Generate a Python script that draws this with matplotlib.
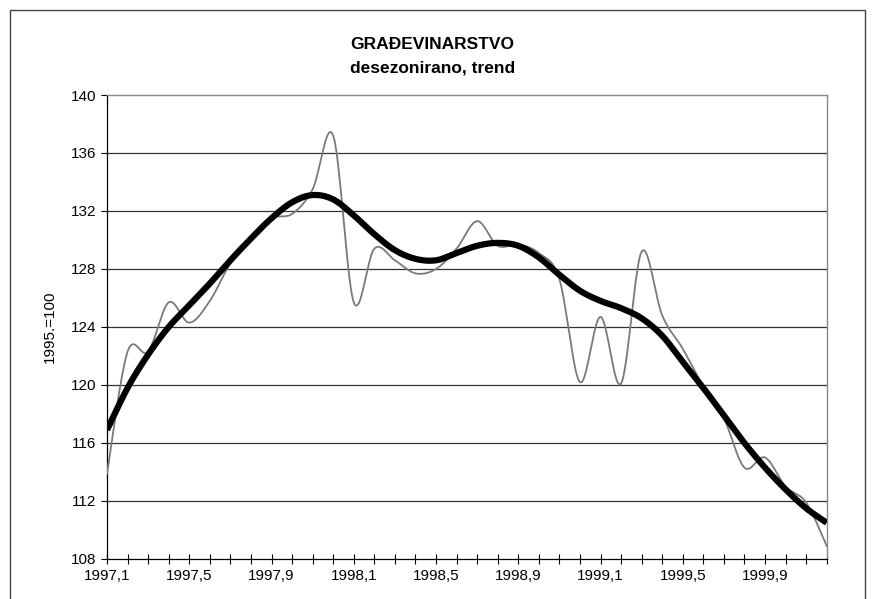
import numpy as np
import matplotlib
matplotlib.use("Agg")
from matplotlib import pyplot as plt
from matplotlib.patches import Rectangle

plt.rcParams['font.family'] = ['Liberation Sans', 'DejaVu Sans']

# mjesečni podaci 1997,1 - 1999,12
months = [f"{y},{m}" for y in (1997, 1998, 1999) for m in range(1, 13)]

# desezonirani indeks (tanka linija)
desez = [113.9, 122.3, 122.3, 125.7, 124.3, 125.8, 128.4, 130.2, 131.5, 131.8,
         133.5, 137.2, 125.7, 129.4, 128.6, 127.7, 128.0, 129.4, 131.3, 129.6,
         129.7, 129.1, 127.3, 120.2, 124.7, 120.1, 129.2, 124.8, 122.5, 119.9,
         117.7, 114.3, 115.0, 113.0, 111.9, 108.9]

# trend (debela linija)
trend = [116.9, 119.8, 122.1, 124.0, 125.5, 127.0, 128.6, 130.1, 131.5, 132.6,
         133.1, 132.8, 131.7, 130.4, 129.3, 128.7, 128.6, 129.1, 129.6, 129.8,
         129.6, 128.8, 127.6, 126.5, 125.8, 125.3, 124.6, 123.4, 121.6, 119.8,
         117.9, 116.0, 114.3, 112.8, 111.5, 110.5]


def smooth(y, n=20):
    # zaglađena linija kao u Excelu (Bezier, kontrolne točke 1/6)
    y = np.asarray(y, float)
    x = np.arange(len(y), dtype=float)
    xp = np.concatenate([[x[0]], x, [x[-1]]])
    yp = np.concatenate([[y[0]], y, [y[-1]]])
    xs, ys = [], []
    t = np.linspace(0, 1, n, endpoint=False)
    for i in range(len(y) - 1):
        p0 = np.array([x[i], y[i]])
        p3 = np.array([x[i + 1], y[i + 1]])
        p1 = p0 + (np.array([xp[i + 2], yp[i + 2]]) - np.array([xp[i], yp[i]])) / 6
        p2 = p3 - (np.array([xp[i + 3], yp[i + 3]]) - np.array([xp[i + 1], yp[i + 1]])) / 6
        b = ((1 - t) ** 3)[:, None] * p0 + (3 * (1 - t) ** 2 * t)[:, None] * p1 \
            + (3 * (1 - t) * t ** 2)[:, None] * p2 + (t ** 3)[:, None] * p3
        xs.extend(b[:, 0]); ys.extend(b[:, 1])
    xs.append(x[-1]); ys.append(y[-1])
    return np.array(xs), np.array(ys)


fig = plt.figure(figsize=(8.75, 5.99), dpi=100)
ax = fig.add_axes([0.1223, 0.0668, 0.8225, 0.7746])

fig.patches.append(Rectangle((0.011, -0.01), 0.978, 0.994, transform=fig.transFigure,
                             fill=False, edgecolor='#444444', linewidth=1.0))

for v in range(112, 140, 4):
    ax.axhline(v, color='#333333', linewidth=0.9, zorder=1)

xs, ys = smooth(desez)
ax.plot(xs, ys, color='#7a7a7a', linewidth=1.3, zorder=3)
xs, ys = smooth(trend)
ax.plot(xs, ys, color='black', linewidth=4.5, solid_capstyle='butt', zorder=4)

ax.set_xlim(0, len(months) - 1)
ax.set_ylim(108, 140)
ax.set_yticks(range(108, 141, 4))
ax.set_xticks(range(len(months)))
ax.set_xticklabels([m if i % 4 == 0 else "" for i, m in enumerate(months)])
ax.tick_params(axis='x', direction='inout', length=7, width=0.8, labelsize=11, pad=4)
ax.tick_params(axis='y', direction='out', length=4, width=0.8, labelsize=11, pad=4)

for s in ('left', 'bottom'):
    ax.spines[s].set_color('black')
    ax.spines[s].set_linewidth(0.9)
for s in ('top', 'right'):
    ax.spines[s].set_color('#888888')
    ax.spines[s].set_linewidth(1.0)

ax.set_ylabel("1995.=100", fontsize=11, labelpad=10)

fig.text(0.494, 0.925, "GRAĐEVINARSTVO", ha='center', va='center', fontsize=12.5, fontweight='bold')
fig.text(0.494, 0.887, "desezonirano, trend", ha='center', va='center', fontsize=12.5, fontweight='bold')

fig.savefig("out.png", dpi=100)
